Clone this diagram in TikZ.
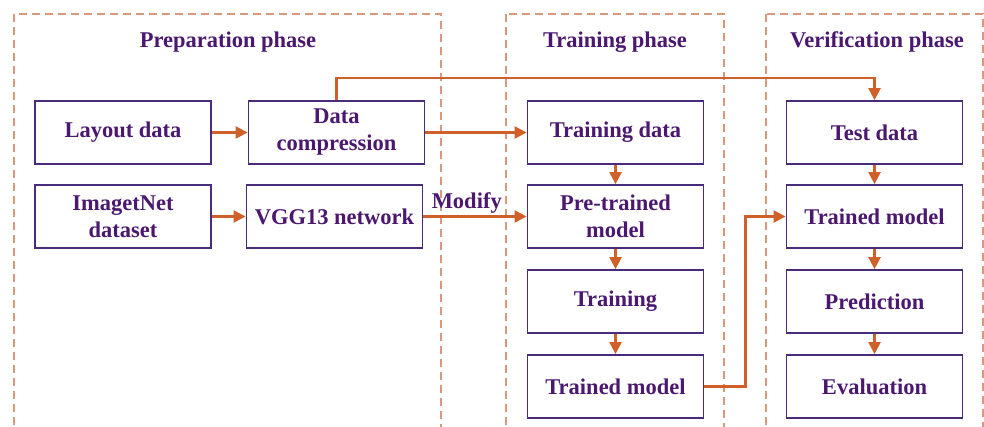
\documentclass[tikz,border=0pt]{standalone}
\usepackage{fontspec}
\setmainfont{Liberation Serif}
\usetikzlibrary{arrows.meta}
\definecolor{boxpurple}{HTML}{4A2A7A}
\definecolor{txtpurple}{HTML}{4B1870}
\definecolor{flow}{HTML}{D0602A}
\definecolor{frameorange}{HTML}{D9977C}
\tikzset{
  stepbox/.style={draw=boxpurple, line width=1.8pt, fill=white,
    minimum width=176pt, minimum height=63pt, inner sep=0pt,
    align=center, text=txtpurple, font=\fontsize{22.5}{27}\selectfont\bfseries},
  phase/.style={draw=frameorange, line width=1.3pt, dash pattern=on 8pt off 5pt},
  title/.style={text=txtpurple, font=\fontsize{22.5}{27}\selectfont\bfseries},
  flowline/.style={draw=flow, line width=2.3pt},
  flowarrow/.style={flowline, -{Triangle[length=12pt,width=12pt]}}
}
\begin{document}
\begin{tikzpicture}[x=1pt,y=-1pt]
\useasboundingbox (0,0) rectangle (984,426);
\clip (0,0) rectangle (984,426);
% phase frames
\draw[phase] (14,14) rectangle (441,445);
\draw[phase] (506,14) rectangle (724,445);
\draw[phase] (766,14) rectangle (983,445);
\node[title] (tprep) at (228,42) {Preparation phase};
\node[title] (ttrain) at (615,42) {Training phase};
\node[title] (tver) at (877,42) {Verification phase};
% preparation boxes
\node[stepbox] (layout) at (123,132.5) {Layout data};
\node[stepbox] (comp) at (336.5,132.5) {Data\\compression};
\node[stepbox] (imgnet) at (123,216.5) {ImagetNet\\dataset};
\node[stepbox] (vgg) at (334.5,216.5) {VGG13 network};
% training boxes
\node[stepbox] (tdata) at (615.5,132.5) {Training data};
\node[stepbox] (pre) at (615.5,216.5) {Pre-trained\\model};
\node[stepbox] (train) at (615.5,301.5) {Training};
\node[stepbox] (tm1) at (615.5,386.5) {Trained model};
% verification boxes
\node[stepbox] (test) at (874.5,132.5) {Test data};
\node[stepbox] (tm2) at (874.5,216.5) {Trained model};
\node[stepbox] (pred) at (874.5,301.5) {Prediction};
\node[stepbox] (eval) at (874.5,386.5) {Evaluation};
% connectors
\draw[flowarrow] (layout) -- (comp);
\draw[flowarrow] (imgnet) -- (vgg);
\draw[flowarrow] (comp) -- (tdata);
\draw[flowarrow] (vgg) -- node[above, title, pos=0.42, yshift=-1pt] {Modify} (pre);
\draw[flowarrow] (comp.north) -- ++(0,-22) -| (test.north);
\draw[flowarrow] (tdata) -- (pre);
\draw[flowarrow] (pre) -- (train);
\draw[flowarrow] (train) -- (tm1);
\draw[flowarrow] (tm1.east) -- ++(41,0) |- (tm2.west);
\draw[flowarrow] (test) -- (tm2);
\draw[flowarrow] (tm2) -- (pred);
\draw[flowarrow] (pred) -- (eval);
\end{tikzpicture}
\end{document}
